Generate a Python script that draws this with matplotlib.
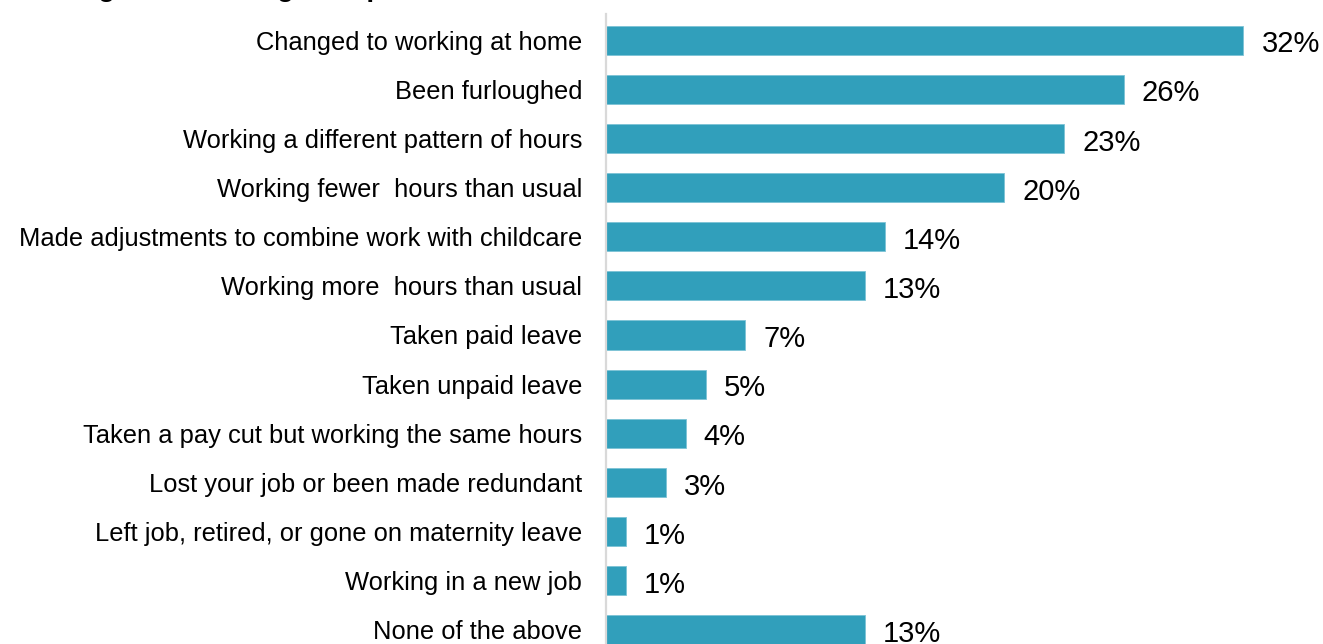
import matplotlib.pyplot as plt

plt.rcParams['font.family'] = ['Liberation Sans', 'DejaVu Sans']

# Share of respondents reporting each change to their work
categories = [
    "Changed to working at home",
    "Been furloughed",
    "Working a different pattern of hours",
    "Working fewer  hours than usual",
    "Made adjustments to combine work with childcare",
    "Working more  hours than usual",
    "Taken paid leave",
    "Taken unpaid leave",
    "Taken a pay cut but working the same hours",
    "Lost your job or been made redundant",
    "Left job, retired, or gone on maternity leave",
    "Working in a new job",
    "None of the above",
]
values = [32, 26, 23, 20, 14, 13, 7, 5, 4, 3, 1, 1, 13]

bar_color = "#319FBB"

fig = plt.figure(figsize=(13.23, 6.44), dpi=100)
ax = fig.add_axes([0.458, 0.0, 0.542, 1 - 14 / 644])

y = list(range(len(categories)))
bars = ax.barh(y, values, height=0.59, color=bar_color,
               edgecolor="#7CC3D6", linewidth=0.6)

for rect, v in zip(bars, values):
    ax.annotate(f"{v}%", xy=(rect.get_width(), rect.get_y() + rect.get_height() / 2),
                xytext=(13, -3), textcoords="offset points",
                ha="left", va="center", fontsize=21, color="black")

ax.set_yticks(y)
ax.set_yticklabels(categories, fontsize=18.4)
ax.tick_params(axis="y", length=0, pad=17)
ax.set_xticks([])
ax.set_xlim(0, 36)
ax.set_ylim(12.285, -0.529)

for side in ["top", "right", "bottom"]:
    ax.spines[side].set_visible(False)
ax.spines["left"].set_color("#D9D9D9")
ax.spines["left"].set_linewidth(1.6)

# Heading sits mostly above the canvas edge
fig.text(0.022, 1 + 4 / 644, "Changes to working time patterns", fontsize=20,
         fontweight="bold", ha="left", va="baseline", color="black")

fig.savefig("out.png", dpi=100)
